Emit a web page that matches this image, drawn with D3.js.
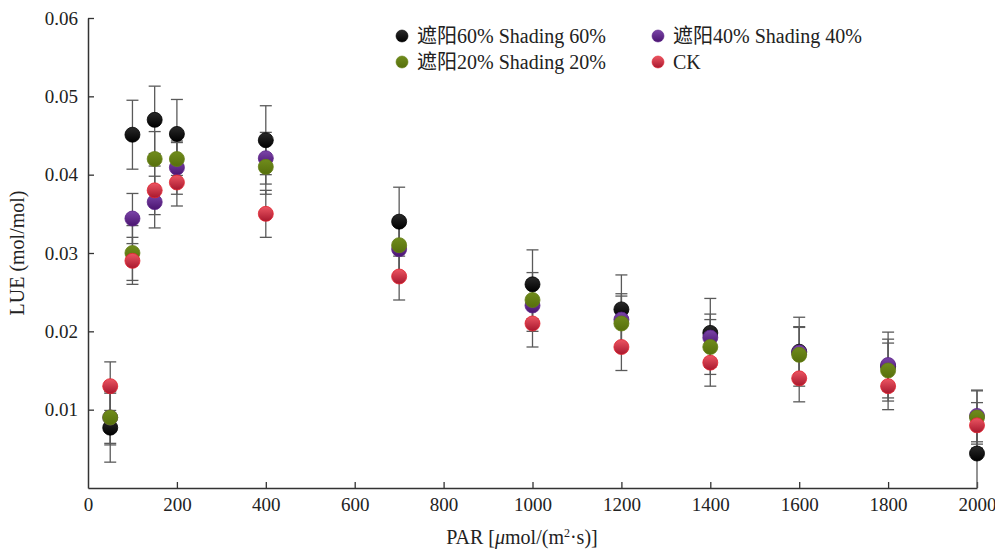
<!DOCTYPE html>
<html>
<head>
<meta charset="utf-8">
<script src="https://cdn.jsdelivr.net/npm/d3@7"></script>
<style>
  body { margin: 0; background: #fff; }
  svg { display: block; }
  text { font-family: "Liberation Serif", "Noto Sans CJK SC", serif; fill: #222; }
</style>
</head>
<body>
<svg id="chart" width="995" height="551"></svg>
<script>
// ---- data ----
const PAR = [50, 100, 150, 200, 400, 700, 1000, 1200, 1400, 1600, 1800, 2000];
const shading60 = [0.0077, 0.0451, 0.0470, 0.0452, 0.0444, 0.0340, 0.0260, 0.0228, 0.0198, 0.0174, 0.0155, 0.0044];
const shading60Err = [0.0044, 0.0044, 0.0043, 0.0044, 0.0044, 0.0044, 0.0044, 0.0044, 0.0044, 0.0044, 0.0044, 0.0044];
const shading40 = [0.0090, 0.0344, 0.0365, 0.0409, 0.0421, 0.0305, 0.0233, 0.0215, 0.0192, 0.0173, 0.0157, 0.0092];
const shading40Err = [0.0033, 0.0032, 0.0033, 0.0034, 0.0033, 0.0033, 0.0033, 0.0033, 0.0030, 0.0033, 0.0033, 0.0033];
const shading20 = [0.0090, 0.0300, 0.0420, 0.0420, 0.0410, 0.0310, 0.0240, 0.0210, 0.0180, 0.0170, 0.0150, 0.0090];
const shading20Err = [0.0035, 0.0035, 0.0035, 0.0021, 0.0035, 0.0035, 0.0035, 0.0035, 0.0035, 0.0035, 0.0035, 0.0034];
const ck = [0.0130, 0.0290, 0.0380, 0.0390, 0.0350, 0.0270, 0.0210, 0.0180, 0.0160, 0.0140, 0.0130, 0.0080];
const ckErr = [0.0031, 0.0030, 0.0031, 0.0030, 0.0030, 0.0030, 0.0030, 0.0030, 0.0030, 0.0030, 0.0030, 0.0029];
const seriesNames = ["遮阳60% Shading 60%", "遮阳40% Shading 40%", "遮阳20% Shading 20%", "CK"];
const xTicks = [0, 200, 400, 600, 800, 1000, 1200, 1400, 1600, 1800, 2000];
const yTicks = [0.01, 0.02, 0.03, 0.04, 0.05, 0.06];

const series = [
  { name: seriesNames[0], vals: shading60, err: shading60Err, top: "#2a2a2a", bot: "#000000", stroke: "#000000", id: "g0" },
  { name: seriesNames[1], vals: shading40, err: shading40Err, top: "#7b45a8", bot: "#4a1470", stroke: "#5a2188", id: "g1" },
  { name: seriesNames[2], vals: shading20, err: shading20Err, top: "#708c1c", bot: "#566f0c", stroke: "#647f14", id: "g2" },
  { name: seriesNames[3], vals: ck, err: ckErr, top: "#ec5663", bot: "#a8182e", stroke: "#e3232f", id: "g3" }
];

// ---- layout ----
const svg = d3.select("#chart");
const x = d3.scaleLinear().domain([0, 2000]).range([88, 977]);
const y = d3.scaleLinear().domain([0, 0.06]).range([488, 18]);

const defs = svg.append("defs");
series.forEach(s => {
  const g = defs.append("linearGradient").attr("id", s.id)
    .attr("x1", 0).attr("y1", 0).attr("x2", 0).attr("y2", 1);
  g.append("stop").attr("offset", "0%").attr("stop-color", s.top);
  g.append("stop").attr("offset", "100%").attr("stop-color", s.bot);
});

// axes
const xAxis = d3.axisBottom(x).tickValues(xTicks).tickSizeInner(-6).tickSizeOuter(0).tickPadding(10).tickFormat(d3.format("d"));
const gx = svg.append("g").attr("transform", "translate(0,488)").call(xAxis);
const yAxis = d3.axisLeft(y).tickValues(yTicks).tickSizeInner(-6).tickSizeOuter(0).tickPadding(10).tickFormat(d3.format(".2f"));
const gy = svg.append("g").attr("transform", "translate(88,0)").call(yAxis);
[gx, gy].forEach(g => {
  g.select(".domain").attr("stroke", "#333").attr("stroke-width", 1.5);
  g.selectAll(".tick line").attr("stroke", "#333").attr("stroke-width", 1.3);
  g.selectAll(".tick text").style("font-family", "'Liberation Serif', serif").style("font-size", "19px").attr("fill", "#222");
});
gx.selectAll(".tick").filter(d => d === 0).select("line").remove();

// axis titles
const xt = svg.append("text").attr("x", 522).attr("y", 544).attr("text-anchor", "middle").style("font-size", "20px");
xt.append("tspan").text("PAR [");
xt.append("tspan").style("font-style", "italic").text("μ");
xt.append("tspan").text("mol/(m");
xt.append("tspan").attr("dy", -7).style("font-size", "12px").text("2");
xt.append("tspan").attr("dy", 7).text("·s)]");

svg.append("text").attr("transform", "translate(24,253) rotate(-90)").attr("text-anchor", "middle")
  .style("font-size", "20px").text("LUE (mol/mol)");

// error bars
const eb = svg.append("g");
series.forEach(s => {
  PAR.forEach((p, i) => {
    const cx = x(p), y1 = y(s.vals[i] + s.err[i]), y2 = y(Math.max(0, s.vals[i] - s.err[i]));
    eb.append("line").attr("x1", cx).attr("x2", cx).attr("y1", y1).attr("y2", y2).attr("stroke", "#5a5a5a").attr("stroke-width", 1.3);
    [y1, y2].forEach(yy => {
      if (yy < 487) eb.append("line").attr("x1", cx - 6).attr("x2", cx + 6).attr("y1", yy).attr("y2", yy).attr("stroke", "#5a5a5a").attr("stroke-width", 1.3);
    });
  });
});

// points
series.forEach(s => {
  svg.append("g").selectAll("circle").data(PAR.map((p, i) => [p, s.vals[i]])).join("circle")
    .attr("cx", d => x(d[0])).attr("cy", d => y(d[1])).attr("r", 7.5)
    .attr("fill", `url(#${s.id})`).attr("stroke", s.stroke).attr("stroke-width", 0.8);
});

// legend
const legPos = [[402, 36], [658, 36], [402, 62], [658, 62]];
series.forEach((s, i) => {
  const [lx, ly] = legPos[i];
  svg.append("circle").attr("cx", lx).attr("cy", ly).attr("r", 6).attr("fill", `url(#${s.id})`).attr("stroke", s.stroke).attr("stroke-width", 0.6);
  svg.append("text").attr("x", lx + 15).attr("y", ly + 7).style("font-size", "20px").text(s.name);
});
</script>
</body>
</html>
